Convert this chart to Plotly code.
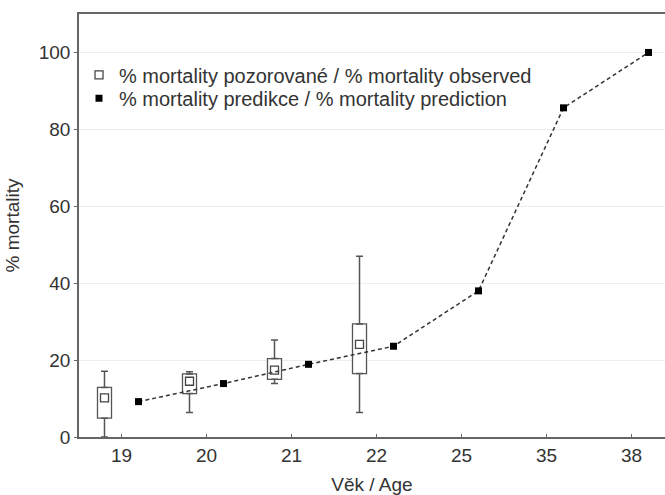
import plotly.graph_objects as go

# ---- data ----
age_labels = ["19", "20", "21", "22", "25", "35", "38"]
obs_idx = [0, 1, 2, 3]
obs_center = [10.2, 14.5, 17.4, 24.1]
obs_q1 = [4.9, 11.3, 15.0, 16.5]
obs_q3 = [12.9, 16.4, 20.4, 29.4]
obs_low = [0.0, 6.4, 13.9, 6.4]
obs_high = [17.1, 17.0, 25.2, 47.0]
pred_idx = [0, 1, 2, 3, 4, 5, 6]
pred_vals = [9.2, 13.9, 18.9, 23.6, 38.0, 85.6, 100.0]

OFF = 0.2
BOXW = 0.165
FONT = "Liberation Sans, Arial, sans-serif"
TXT = "#333333"
LINE = "#555555"

xo = [i - OFF for i in obs_idx]
xp = [i + OFF for i in pred_idx]

fig = go.Figure()

# boxes
fig.add_trace(go.Bar(
    x=xo, base=obs_q1, y=[h - l for h, l in zip(obs_q3, obs_q1)],
    width=BOXW, marker=dict(color="white", line=dict(color=LINE, width=1.3)),
    showlegend=False, hoverinfo="skip"))

# upper whiskers
fig.add_trace(go.Scatter(
    x=xo, y=obs_q3, mode="markers", marker=dict(size=1, opacity=0),
    error_y=dict(type="data", symmetric=False,
                 array=[h - q for h, q in zip(obs_high, obs_q3)],
                 arrayminus=[0] * len(xo), color=LINE, thickness=1.5, width=3.5),
    showlegend=False, hoverinfo="skip"))
# lower whiskers
fig.add_trace(go.Scatter(
    x=xo, y=obs_q1, mode="markers", marker=dict(size=1, opacity=0),
    error_y=dict(type="data", symmetric=False,
                 array=[0] * len(xo),
                 arrayminus=[q - l for q, l in zip(obs_q1, obs_low)],
                 color=LINE, thickness=1.5, width=3.5),
    showlegend=False, hoverinfo="skip"))

# prediction dashed line
fig.add_trace(go.Scatter(
    x=xp, y=pred_vals, mode="lines",
    line=dict(color="#333333", width=1.5, dash="4px,3px"),
    showlegend=False, hoverinfo="skip"))

# observed centre markers (legend entry)
fig.add_trace(go.Scatter(
    x=xo, y=obs_center, mode="markers",
    marker=dict(symbol="square-open", size=8, color="#444444", line=dict(width=1.3)),
    name="% mortality pozorované / % mortality observed", legend="legend"))

# prediction markers
fig.add_trace(go.Scatter(
    x=xp, y=pred_vals, mode="markers",
    marker=dict(symbol="square", size=7, color="black"),
    name="% mortality predikce / % mortality prediction", legend="legend2"))

leg_common = dict(x=0, xanchor="left", yanchor="middle",
                  bgcolor="rgba(0,0,0,0)", font=dict(size=20, color=TXT))

fig.update_layout(
    width=665, height=495,
    margin=dict(l=79, r=0, t=14, b=58),
    paper_bgcolor="white", plot_bgcolor="white",
    font=dict(family=FONT, size=19, color=TXT),
    showlegend=True,
    legend=dict(y=0.856, **leg_common),
    legend2=dict(y=0.801, **leg_common),
    barmode="overlay",
)
fig.update_xaxes(
    range=[-0.5, 6.394], tickmode="array", tickvals=pred_idx, ticktext=age_labels,
    showline=True, linecolor="#666666", linewidth=1.5, mirror=True,
    ticks="inside", ticklen=3, tickcolor="#666666",
    showgrid=False, zeroline=False,
    title=dict(text="Věk / Age", standoff=15, font=dict(size=19, color=TXT)),
)
fig.update_yaxes(
    range=[0, 110], tickmode="array", tickvals=[0, 20, 40, 60, 80, 100],
    showline=True, linecolor="#666666", linewidth=1.5, mirror=False,
    ticks="outside", ticklen=3, tickcolor="#666666",
    showgrid=True, gridcolor="#ededed", gridwidth=1, zeroline=False,
    title=dict(text="% mortality", standoff=14, font=dict(size=19, color=TXT)),
)

fig.write_html("out.html")
